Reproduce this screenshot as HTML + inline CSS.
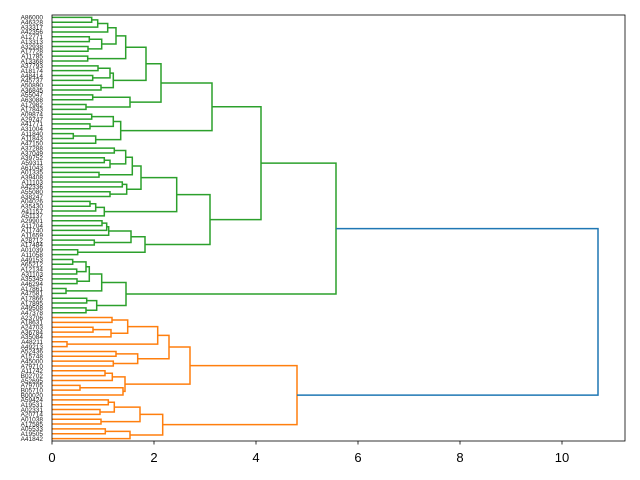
<!DOCTYPE html>
<html><head><meta charset="utf-8"><style>html,body{margin:0;padding:0;background:#fff;}svg{display:block}</style></head>
<body>
<svg id="s" width="640" height="480" xmlns="http://www.w3.org/2000/svg" font-family="Liberation Sans, DejaVu Sans, sans-serif">
<rect width="640" height="480" fill="#fff"/>
<g id="links" fill="none" stroke-width="1.5"></g>
<g id="labels" font-size="6.5" fill="#222" text-anchor="end"></g>
<rect x="52" y="15" width="573" height="426" fill="none" stroke="#000" stroke-width="0.8"/>
<g stroke="#000" stroke-width="0.8">
<line x1="52" y1="441" x2="52" y2="444.5"/><line x1="154" y1="441" x2="154" y2="444.5"/>
<line x1="256" y1="441" x2="256" y2="444.5"/><line x1="358" y1="441" x2="358" y2="444.5"/>
<line x1="460" y1="441" x2="460" y2="444.5"/><line x1="562" y1="441" x2="562" y2="444.5"/>
</g>
<g font-size="13" text-anchor="middle" fill="#000">
<text x="52" y="462">0</text><text x="154" y="462">2</text><text x="256" y="462">4</text>
<text x="358" y="462">6</text><text x="460" y="462">8</text><text x="562" y="462">10</text>
</g>
</svg>
<script>
var names=["A86000","A46328","A33317","A42356","A12771","A13313","A32938","A17728","A11785","A13368","A37793","A18174","A48414","A45737","A50890","A36845","A55047","A63088","A17982","A17843","A09874","A29747","A41771","A31004","A11840","A11843","A47150","A37288","A37049","A39752","A59311","A61043","A01335","A39408","A11103","A42336","A55080","A38247","A04026","A35430","A41157","A51137","A29901","A11704","A11740","A11659","A28712","A17484","A01039","A11058","A49153","A65212","A12134","A31103","A35345","A46294","A17861","A47581","A17866","A17895","A49508","A47378","A23706","A18631","A24703","A36784","A35084","A48211","A49213","A52436","A15748","A45000","A79710","A11742","B02702","A52695","A79705","B05710","B00020","A59424","A19531","A02331","A20714","A01038","A17585","A05533","A19505","A41842"];
function ly(i){return 15+(i+0.5)*426/88;}
var G1=[[[[[0,1,91.7],2,97.7],3,107.7],[[4,5,89.3],[6,7,88],101.7],116],[8,9,87.7],125.7];
var G2=[[[10,11,98],[12,13,92.7],110],[14,15,101],113.3];
var G3=[[16,17,92.7],[18,19,86],130];
var T161=[[G1,G2,146],G3,161];
var B120=[[[20,21,91.7],[22,23,90],113.3],[[24,25,73.3],26,95.7],120.7];
var T212=[T161,B120,212];
var C27=[[[27,28,114.3],[[29,30,104.3],31,110],125.7],[32,33,99],132.3];
var C34=[[34,35,122.3],[36,37,110],126.7];
var C38=[[[38,39,90],40,95.7],41,104.3];
var T176=[[C27,C34,141],C38,176.7];
var C42=[[[[42,43,102],44,106.7],45,108.7],[46,47,94.3],131];
var T145=[C42,[48,49,77.7],145];
var T210=[T176,T145,210];
var T261=[T212,T210,261];
var C50=[[[50,51,72.7],[52,53,76.7],86],[54,55,77],89.3];
var T126=[[C50,[56,57,66],101.7],[[58,59,86.7],[60,61,86],96.7],126];
var GREEN=[T261,T126,336];
var O1=[[[62,63,112],[[64,65,93],66,111],127.7],[67,68,67],157.7];
var O2=[[69,70,116],[71,72,113.3],137.7];
var O3=[[[73,74,105],75,112.3],[[76,77,80],78,123],125];
var T190=[[O1,O2,169],O3,190];
var T163=[[[[79,80,108.3],[81,82,100],114.3],[83,84,101],140],[[85,86,105.3],87,130],162.7];
var ORANGE=[T190,T163,297];
var g=document.getElementById('links');
var NS="http://www.w3.org/2000/svg";
function draw(n,col){
  if(typeof n==='number') return [52,ly(n)];
  var a=draw(n[0],col),b=draw(n[1],col),x=n[2];
  var p=document.createElementNS(NS,'path');
  p.setAttribute('d','M'+a[0]+' '+a[1]+'H'+x+'V'+b[1]+'H'+b[0]);
  p.setAttribute('stroke',col);g.appendChild(p);
  return [x,(a[1]+b[1])/2];
}
var gr=draw(GREEN,'#2ca02c'),or=draw(ORANGE,'#ff7f0e');
var p=document.createElementNS(NS,'path');
p.setAttribute('d','M'+gr[0]+' '+gr[1]+'H598V'+or[1]+'H'+or[0]);
p.setAttribute('stroke','#1f77b4');g.appendChild(p);
var lg=document.getElementById('labels');
for(var i=0;i<88;i++){var t=document.createElementNS(NS,'text');t.setAttribute('x','43');t.setAttribute('y',(ly(i)+2.3).toFixed(1));t.textContent=names[i];lg.appendChild(t);}
</script>
</body></html>
